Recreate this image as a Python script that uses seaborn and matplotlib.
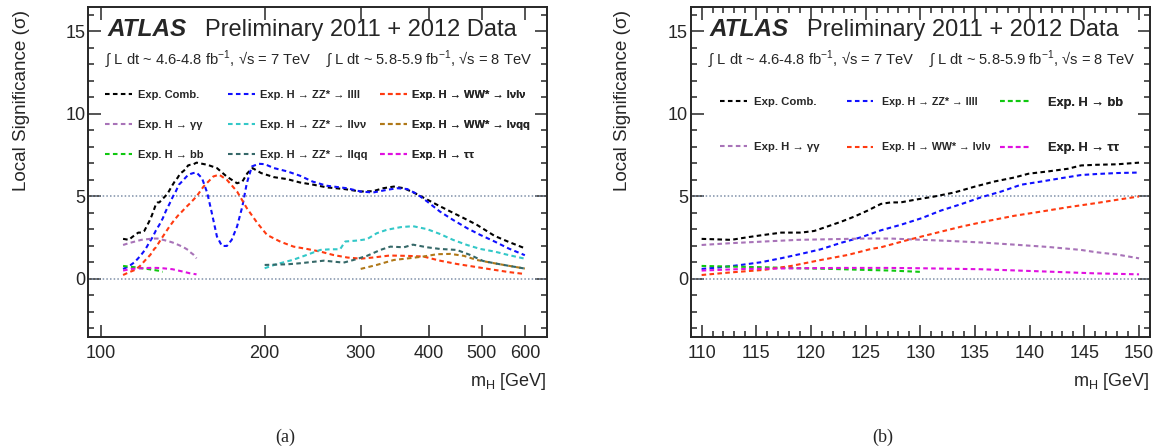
import matplotlib
matplotlib.use("Agg")
import matplotlib.pyplot as plt
from matplotlib.ticker import FixedLocator, NullLocator, MultipleLocator, FixedFormatter
import seaborn as sns

# ---- data ----
# low-mass region, shared by both panels (110-150 GeV)
comb_lo_m = [110, 111, 112.7, 114.2, 115.7, 117.3, 119.1, 120.3, 121.5, 122.8, 124, 125.2, 126.4,
             127.3, 128.2, 129.5, 131.3, 133.1, 135, 136.8, 138.6, 139.9, 141.7, 143.5, 144.7, 146.1, 148, 150]
comb_lo_v = [2.43, 2.41, 2.37, 2.53, 2.67, 2.81, 2.81, 2.91, 3.18, 3.48, 3.79, 4.15, 4.55,
             4.64, 4.64, 4.8, 5.0, 5.24, 5.6, 5.91, 6.15, 6.38, 6.52, 6.68, 6.88, 6.92, 6.95, 7.05]
zz4l_lo_m = [110, 111.8, 113.6, 115.4, 117.3, 119.1, 120.9, 122.8, 124.6, 126.4, 128.2, 130.1, 131.9,
             133.8, 135.6, 137.4, 139.2, 141.1, 142.9, 144.7, 146.1, 148, 150]
zz4l_lo_v = [0.61, 0.71, 0.85, 1.01, 1.26, 1.52, 1.8, 2.2, 2.53, 2.95, 3.28, 3.68, 4.15,
             4.55, 4.96, 5.3, 5.71, 5.91, 6.11, 6.3, 6.36, 6.42, 6.45]
wwlvlv_lo_m = [110, 112.7, 115.7, 118.2, 120.9, 123.4, 125.5, 126.4, 128.9, 131.3, 133.8, 136.2,
               138.6, 141.1, 143.5, 146.1, 148, 150]
wwlvlv_lo_v = [0.24, 0.4, 0.55, 0.79, 1.15, 1.46, 1.82, 1.92, 2.37, 2.77, 3.18, 3.52,
               3.83, 4.09, 4.35, 4.6, 4.8, 5.0]
gg_m = [110, 112.7, 115.7, 118.8, 121.8, 124.9, 127.3, 129.5, 132.5, 135.6, 138.6, 141.7, 144.7, 146.1, 148, 150]
gg_v = [2.06, 2.17, 2.27, 2.37, 2.41, 2.45, 2.45, 2.39, 2.31, 2.21, 2.08, 1.94, 1.76, 1.62, 1.48, 1.25]
bb_m = [110, 112.7, 115.7, 118.8, 121.8, 124.9, 127.3, 130]
bb_v = [0.79, 0.75, 0.71, 0.65, 0.61, 0.55, 0.51, 0.43]
tt_m = [110, 114, 119, 123, 127, 130, 135.5, 141.5, 146, 150]
tt_v = [0.51, 0.61, 0.65, 0.67, 0.67, 0.65, 0.59, 0.45, 0.34, 0.28]

# high-mass continuation, left panel only
comb_hi_m = [157, 163.5, 170.5, 178, 182, 186, 190, 197, 208, 220, 232, 245, 260, 280, 300, 316,
             330, 345, 360, 375, 390, 414, 438, 464, 490, 528, 560, 600]
comb_hi_v = [6.92, 6.72, 6.2, 5.8, 5.9, 6.42, 6.72, 6.42, 6.17, 6.05, 5.85, 5.72, 5.55, 5.45, 5.3, 5.32,
             5.5, 5.6, 5.5, 5.24, 4.95, 4.5, 4.09, 3.68, 3.28, 2.61, 2.25, 1.86]
zz4l_hi_m = [153.5, 157, 160, 163.5, 167, 170.5, 174, 178, 182, 185.5, 189.5, 195, 200, 208, 220, 232,
             245, 260, 283, 300, 316, 335, 350, 365, 380, 397, 419, 443, 470, 497, 528, 560, 600]
zz4l_hi_v = [6.11, 5.2, 4.0, 2.57, 2.0, 2.0, 2.37, 3.18, 4.39, 5.81, 6.82, 6.98, 6.96, 6.72, 6.52, 6.26,
             5.9, 5.65, 5.5, 5.3, 5.24, 5.4, 5.5, 5.45, 5.16, 4.7, 4.09, 3.58, 3.08, 2.67, 2.27, 1.85, 1.44]
wwlvlv_hi_m = [154.5, 161, 165, 170.5, 178, 185.5, 194, 202, 214, 226, 239, 253, 267.5, 283.5, 300,
               316, 339, 365, 391, 419, 450, 483, 528, 560, 600]
wwlvlv_hi_v = [5.6, 6.21, 6.32, 6.01, 5.3, 4.29, 3.38, 2.67, 2.25, 1.96, 1.82, 1.66, 1.45, 1.3, 1.23,
               1.3, 1.42, 1.4, 1.36, 1.11, 0.91, 0.75, 0.55, 0.42, 0.30]
zzllvv_m = [200, 210, 226, 239, 253, 264, 275, 281, 296, 308, 321, 335, 355, 374, 397, 419, 443, 470, 497, 528, 560, 600]
zzllvv_v = [0.65, 0.89, 1.17, 1.46, 1.76, 1.8, 1.8, 2.27, 2.33, 2.41, 2.77, 2.98, 3.14, 3.2, 3.02, 2.73,
            2.37, 2.06, 1.82, 1.66, 1.45, 1.23]
zzllqq_m = [200, 220, 232, 257, 279, 291, 308, 326, 340, 360, 374, 397, 419, 450, 476, 503, 528, 560, 600]
zzllqq_v = [0.85, 0.89, 0.95, 1.11, 0.99, 1.15, 1.4, 1.76, 1.96, 1.92, 2.08, 1.92, 1.82, 1.76, 1.46, 1.09,
            0.95, 0.8, 0.63]
wwlvqq_m = [300, 321, 345, 369, 391, 414, 438, 464, 490, 528, 560, 600]
wwlvqq_v = [0.61, 0.85, 1.15, 1.26, 1.36, 1.5, 1.52, 1.4, 1.15, 0.95, 0.8, 0.63]

colors = {
    "comb": "#000000", "zz4l": "#1010ff", "wwlvlv": "#ff3a10", "gg": "#a873b8",
    "zzllvv": "#33c8c8", "wwlvqq": "#b07818", "bb": "#10c810", "zzllqq": "#356868", "tt": "#e010e0",
}

sns.set_style("ticks")
plt.rcParams["font.family"] = ["Liberation Sans", "DejaVu Sans"]
plt.rcParams["mathtext.fontset"] = "custom"
plt.rcParams["mathtext.rm"] = "Liberation Sans"
plt.rcParams["mathtext.bf"] = "Liberation Sans:bold"
plt.rcParams["axes.linewidth"] = 1.4

DASH = (0, (2.2, 1.6))


def draw(ax, m, v, key):
    sns.lineplot(x=m, y=v, ax=ax, color=colors[key], lw=1.5, linestyle=DASH,
                 legend=False, estimator=None, sort=False)
    return ax.lines[-1]


def style_axes(ax):
    ax.set_ylim(-3.5, 16.5)
    ax.yaxis.set_major_locator(MultipleLocator(5))
    ax.yaxis.set_minor_locator(MultipleLocator(1))
    ax.tick_params(which="both", direction="in", top=True, right=True, width=1.1, labelsize=13)
    ax.tick_params(which="major", length=9)
    ax.tick_params(which="minor", length=4.5)
    ax.tick_params(axis="x", pad=6)
    ax.tick_params(axis="y", pad=2)
    for y in (0, 5):
        ax.axhline(y, color="#7f90a8", lw=1.1, ls=(0, (1, 1.4)), zorder=1)
    ax.set_ylabel("Local Significance (σ)", fontsize=13.6, loc="top")
    ax.set_xlabel("m$_{\\mathregular{H}}$ [GeV]", fontsize=13, loc="right")
    ax.xaxis.set_label_coords(1.0, -0.105)
    ax.text(0.041, 0.93, "ATLAS", transform=ax.transAxes, fontsize=17.5,
            fontweight="bold", fontstyle="italic", va="center")
    ax.text(0.254, 0.93, "Preliminary 2011 + 2012 Data", transform=ax.transAxes,
            fontsize=17, va="center")
    ax.text(0.037, 0.842,
            "∫ L dt ~ 4.6-4.8 fb$^{\\mathregular{-1}}$, √s = 7 TeV    "
            "∫ L dt ~ 5.8-5.9 fb$^{\\mathregular{-1}}$, √s = 8 TeV",
            transform=ax.transAxes, fontsize=10.6, va="center")


def column_legend(ax, handles, labels, x, y, spacing, size=8, pad=0.5):
    leg = ax.legend(handles, labels, loc="upper left", bbox_to_anchor=(x, y),
                    frameon=False, borderpad=0, borderaxespad=0, handlelength=2.4,
                    handletextpad=pad, labelspacing=spacing,
                    prop={"weight": "bold", "size": size})
    ax.add_artist(leg)


fig = plt.figure(figsize=(11.61, 4.48), dpi=100)
ax_a = fig.add_axes([0.0761, 0.2484, 0.3948, 0.7366])
ax_b = fig.add_axes([0.5949, 0.2484, 0.3956, 0.7366])

# ---- panel (a): full mass range, log x ----
la = {}
la["comb"] = draw(ax_a, comb_lo_m + comb_hi_m, comb_lo_v + comb_hi_v, "comb")
la["zz4l"] = draw(ax_a, zz4l_lo_m + zz4l_hi_m, zz4l_lo_v + zz4l_hi_v, "zz4l")
la["wwlvlv"] = draw(ax_a, wwlvlv_lo_m + wwlvlv_hi_m, wwlvlv_lo_v + wwlvlv_hi_v, "wwlvlv")
la["gg"] = draw(ax_a, gg_m, gg_v, "gg")
la["zzllvv"] = draw(ax_a, zzllvv_m, zzllvv_v, "zzllvv")
la["wwlvqq"] = draw(ax_a, wwlvqq_m, wwlvqq_v, "wwlvqq")
la["bb"] = draw(ax_a, bb_m, bb_v, "bb")
la["zzllqq"] = draw(ax_a, zzllqq_m, zzllqq_v, "zzllqq")
la["tt"] = draw(ax_a, tt_m, tt_v, "tt")

ax_a.set_xscale("log")
ax_a.set_xlim(95, 658)
ax_a.xaxis.set_major_locator(FixedLocator([100, 200, 300, 400, 500, 600]))
ax_a.xaxis.set_major_formatter(FixedFormatter(["100", "200", "300", "400", "500", "600"]))
ax_a.xaxis.set_minor_locator(NullLocator())
style_axes(ax_a)
ax_a.yaxis.set_label_coords(-0.128, 0.99)

row_y_a = 0.749
column_legend(ax_a, [la["comb"], la["gg"], la["bb"]],
              ["Exp. Comb.", "Exp. H → γγ", "Exp. H → bb"], 0.037, row_y_a, 1.8)
column_legend(ax_a, [la["zz4l"], la["zzllvv"], la["zzllqq"]],
              ["Exp. H → ZZ* → llll", "Exp. H → ZZ* → llνν", "Exp. H → ZZ* → llqq"], 0.305, row_y_a, 1.8)
column_legend(ax_a, [la["wwlvlv"], la["wwlvqq"], la["tt"]],
              ["Exp. H → WW* → lνlν", "Exp. H → WW* → lνqq", "Exp. H → ττ"], 0.636, row_y_a, 1.8)

# ---- panel (b): low mass zoom, linear x ----
lb = {}
lb["comb"] = draw(ax_b, comb_lo_m, comb_lo_v, "comb")
lb["zz4l"] = draw(ax_b, zz4l_lo_m, zz4l_lo_v, "zz4l")
lb["bb"] = draw(ax_b, bb_m, bb_v, "bb")
lb["gg"] = draw(ax_b, gg_m, gg_v, "gg")
lb["wwlvlv"] = draw(ax_b, wwlvlv_lo_m, wwlvlv_lo_v, "wwlvlv")
lb["tt"] = draw(ax_b, tt_m, tt_v, "tt")

ax_b.set_xlim(109, 151)
ax_b.xaxis.set_major_locator(MultipleLocator(5))
ax_b.xaxis.set_minor_locator(MultipleLocator(1))
style_axes(ax_b)
ax_b.yaxis.set_label_coords(-0.13, 0.99)

row_y_b = 0.727
column_legend(ax_b, [lb["comb"], lb["gg"]], ["Exp. Comb.", "Exp. H → γγ"], 0.064, row_y_b, 3.07,
              size=8.2, pad=0.6)
column_legend(ax_b, [lb["zz4l"], lb["wwlvlv"]],
              ["Exp. H → ZZ* → llll", "Exp. H → WW* → lνlν"], 0.34, row_y_b, 3.33, size=7.7, pad=0.85)
column_legend(ax_b, [lb["bb"], lb["tt"]], ["Exp. H → bb", "Exp. H → ττ"], 0.673, row_y_b, 2.62,
              size=9.2, pad=1.35)

fig.text(285 / 1161, 1 - 437 / 448, "(a)", ha="center", va="center", fontsize=13,
         family=["Liberation Serif", "DejaVu Serif"])
fig.text(883 / 1161, 1 - 437 / 448, "(b)", ha="center", va="center", fontsize=13,
         family=["Liberation Serif", "DejaVu Serif"])

fig.savefig("out.png", dpi=100)
